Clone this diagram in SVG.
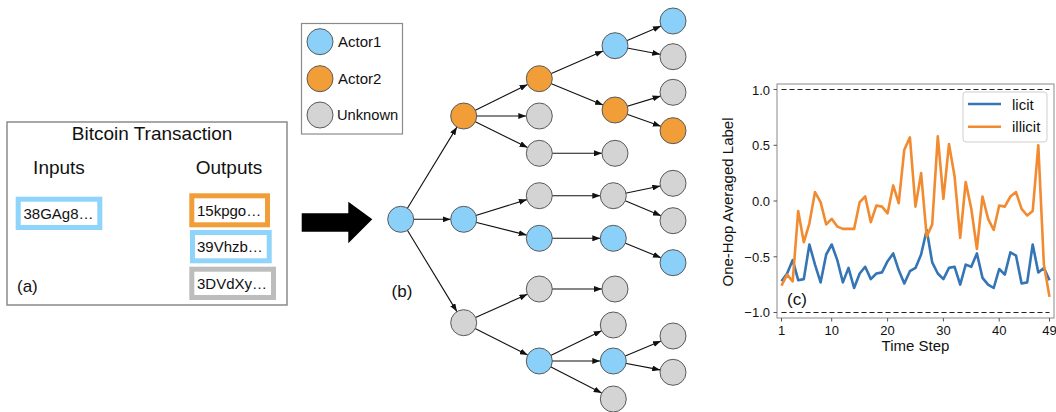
<svg xmlns="http://www.w3.org/2000/svg" width="1056" height="412" viewBox="0 0 1056 412">
<style>
text{font-family:"Liberation Sans",Arial,sans-serif;fill:#111}
.blue{fill:#8ad0f9;stroke:#5a5a5a;stroke-width:1}
.orange{fill:#f19d38;stroke:#5a5a5a;stroke-width:1}
.gray{fill:#d4d4d4;stroke:#5a5a5a;stroke-width:1}
.edge{stroke:#111;stroke-width:1.1;fill:none;marker-end:url(#ah)}
.addr{fill:#fff;stroke-width:5}
.addrt{font-size:15px}
.lbl{font-size:17px}
.tick{font-size:13px;fill:#222}
.ax{stroke:#8a8a8a;stroke-width:1;fill:none}
.dash{stroke:#222;stroke-width:1.2;stroke-dasharray:5,3;fill:none}
</style>
<defs>
<marker id="ah" markerUnits="userSpaceOnUse" markerWidth="8" markerHeight="6" refX="8" refY="3" orient="auto">
<path d="M0,0 L8,3 L0,6 z" fill="#111"/>
</marker>
</defs>
<rect width="1056" height="412" fill="#fff"/>

<g id="panel-a">
<rect x="7" y="122" width="280" height="183" fill="#fff" stroke="#8a8a8a" stroke-width="1.5"/>
<text x="152" y="139.5" font-size="19" text-anchor="middle">Bitcoin Transaction</text>
<text x="59" y="173.5" font-size="19" text-anchor="middle">Inputs</text>
<text x="229" y="173.5" font-size="19" text-anchor="middle">Outputs</text>
<g id="input-38GAg8"><rect class="addr" x="18.2" y="199.2" width="81.6" height="28.3" stroke="#8fd4fb"/><text class="addrt" x="23.5" y="218.5">38GAg8…</text></g>
<g id="output-15kpgo"><rect class="addr" x="191.8" y="195.8" width="75.7" height="29" stroke="#f19d38"/><text class="addrt" x="197" y="215.5">15kpgo…</text></g>
<g id="output-39Vhzb"><rect class="addr" x="192.5" y="232.5" width="76.7" height="28.3" stroke="#8fd4fb"/><text class="addrt" x="197" y="252">39Vhzb…</text></g>
<g id="output-3DVdXy"><rect class="addr" x="191.8" y="269.2" width="81.7" height="28.3" stroke="#bdbdbd"/><text class="addrt" x="197" y="288.5">3DVdXy…</text></g>
<text class="lbl" x="17" y="292">(a)</text>
</g>

<g id="big-arrow">
<path d="M301.7,213.3 H348.3 V201.7 L372.3,219.3 L348.3,243.3 V231.7 H301.7 z" fill="#000"/>
</g>

<g id="legend">
<rect x="301.5" y="23.5" width="101" height="110.5" fill="#fff" stroke="#8a8a8a" stroke-width="1.2"/>
<circle class="blue" cx="320" cy="41.7" r="13"/><text x="338" y="46.5" font-size="15">Actor1</text>
<circle class="orange" cx="320" cy="78.7" r="13"/><text x="338" y="83.5" font-size="15">Actor2</text>
<circle class="gray" cx="320" cy="115" r="13"/><text x="337" y="120" font-size="14.7">Unknown</text>
</g>

<g id="connectors">
<line class="edge" x1="400.7" y1="219.3" x2="456.9" y2="127.1"/>
<line class="edge" x1="400.7" y1="219.3" x2="450.7" y2="219.3"/>
<line class="edge" x1="400.7" y1="219.3" x2="456.9" y2="311.6"/>
<line class="edge" x1="463.7" y1="116" x2="527.6" y2="84.4"/>
<line class="edge" x1="463.7" y1="116" x2="526.3" y2="116"/>
<line class="edge" x1="463.7" y1="116" x2="527.6" y2="147.6"/>
<line class="edge" x1="463.7" y1="219.3" x2="526.9" y2="199.6"/>
<line class="edge" x1="463.7" y1="219.3" x2="526.7" y2="235.1"/>
<line class="edge" x1="463.7" y1="322.7" x2="527.4" y2="294.3"/>
<line class="edge" x1="463.7" y1="322.7" x2="527.7" y2="355.1"/>
<line class="edge" x1="539.3" y1="78.7" x2="603.1" y2="50.9"/>
<line class="edge" x1="539.3" y1="78.7" x2="603" y2="105"/>
<line class="edge" x1="539.3" y1="153.3" x2="602" y2="153.3"/>
<line class="edge" x1="539.3" y1="195.7" x2="600.3" y2="195.7"/>
<line class="edge" x1="539.3" y1="238.3" x2="600.3" y2="238.3"/>
<line class="edge" x1="539.3" y1="289" x2="602" y2="289"/>
<line class="edge" x1="539.3" y1="361" x2="601.6" y2="330.7"/>
<line class="edge" x1="539.3" y1="361" x2="600.3" y2="361"/>
<line class="edge" x1="539.3" y1="361" x2="601.7" y2="393.1"/>
<line class="edge" x1="615" y1="45.7" x2="661" y2="26.1"/>
<line class="edge" x1="615" y1="45.7" x2="660.2" y2="54.3"/>
<line class="edge" x1="615" y1="110" x2="660.6" y2="96.1"/>
<line class="edge" x1="615" y1="110" x2="660.8" y2="126.3"/>
<line class="edge" x1="613.3" y1="195.7" x2="660.3" y2="186"/>
<line class="edge" x1="613.3" y1="195.7" x2="661" y2="215.7"/>
<line class="edge" x1="613.3" y1="238.3" x2="661" y2="257.8"/>
<line class="edge" x1="613.3" y1="361" x2="661" y2="341"/>
<line class="edge" x1="613.3" y1="361" x2="660.2" y2="369.9"/>
</g>

<g id="nodes">
<circle id="n0" class="blue" cx="400.7" cy="219.3" r="13"/>
<circle id="n1a" class="orange" cx="463.7" cy="116" r="13"/>
<circle id="n1b" class="blue" cx="463.7" cy="219.3" r="13"/>
<circle id="n1c" class="gray" cx="463.7" cy="322.7" r="13"/>
<circle id="n2a" class="orange" cx="539.3" cy="78.7" r="13"/>
<circle id="n2b" class="gray" cx="539.3" cy="116" r="13"/>
<circle id="n2c" class="gray" cx="539.3" cy="153.3" r="13"/>
<circle id="n2d" class="gray" cx="539.3" cy="195.7" r="13"/>
<circle id="n2e" class="blue" cx="539.3" cy="238.3" r="13"/>
<circle id="n2f" class="gray" cx="539.3" cy="289" r="13"/>
<circle id="n2g" class="blue" cx="539.3" cy="361" r="13"/>
<circle id="n3a" class="blue" cx="615" cy="45.7" r="13"/>
<circle id="n3b" class="orange" cx="615" cy="110" r="13"/>
<circle id="n3c" class="gray" cx="615" cy="153.3" r="13"/>
<circle id="n3d" class="gray" cx="613.3" cy="195.7" r="13"/>
<circle id="n3e" class="blue" cx="613.3" cy="238.3" r="13"/>
<circle id="n3f" class="gray" cx="615" cy="289" r="13"/>
<circle id="n3g" class="gray" cx="613.3" cy="325" r="13"/>
<circle id="n3h" class="blue" cx="613.3" cy="361" r="13"/>
<circle id="n3i" class="gray" cx="613.3" cy="399" r="13"/>
<circle id="n4a" class="blue" cx="673" cy="21" r="13"/>
<circle id="n4b" class="gray" cx="673" cy="56.7" r="13"/>
<circle id="n4c" class="gray" cx="673" cy="92.3" r="13"/>
<circle id="n4d" class="orange" cx="673" cy="130.7" r="13"/>
<circle id="n4e" class="gray" cx="673" cy="183.3" r="13"/>
<circle id="n4f" class="gray" cx="673" cy="220.7" r="13"/>
<circle id="n4g" class="blue" cx="673" cy="262.7" r="13"/>
<circle id="n4h" class="gray" cx="673" cy="336" r="13"/>
<circle id="n4i" class="gray" cx="673" cy="372.3" r="13"/>
</g>
<text class="lbl" x="402" y="296.5" text-anchor="middle">(b)</text>

<g id="panel-c">
<rect class="ax" x="777" y="84" width="277" height="234" fill="#fff"/>
<g stroke="#555" stroke-width="1">
<line x1="773.5" y1="89.5" x2="777" y2="89.5"/>
<line x1="773.5" y1="145.3" x2="777" y2="145.3"/>
<line x1="773.5" y1="201" x2="777" y2="201"/>
<line x1="773.5" y1="256.8" x2="777" y2="256.8"/>
<line x1="773.5" y1="312.5" x2="777" y2="312.5"/>
<line x1="781.5" y1="318" x2="781.5" y2="321.5"/>
<line x1="831.7" y1="318" x2="831.7" y2="321.5"/>
<line x1="887.6" y1="318" x2="887.6" y2="321.5"/>
<line x1="943.4" y1="318" x2="943.4" y2="321.5"/>
<line x1="999.2" y1="318" x2="999.2" y2="321.5"/>
<line x1="1049.5" y1="318" x2="1049.5" y2="321.5"/>
</g>
<g class="tick" text-anchor="end">
<text x="770" y="94.5">1.0</text>
<text x="770" y="150">0.5</text>
<text x="770" y="205.7">0.0</text>
<text x="770" y="261.5">−0.5</text>
<text x="770" y="317.2">−1.0</text>
</g>
<g class="tick" text-anchor="middle">
<text x="781.5" y="334.5">1</text>
<text x="831.7" y="334.5">10</text>
<text x="887.6" y="334.5">20</text>
<text x="943.4" y="334.5">30</text>
<text x="999.2" y="334.5">40</text>
<text x="1049.5" y="334.5">49</text>
</g>
<text x="915.5" y="350.5" font-size="15" text-anchor="middle">Time Step</text>
<text transform="translate(733,202) rotate(-90)" font-size="15" text-anchor="middle">One-Hop Averaged Label</text>
<line class="dash" x1="781.5" y1="89.5" x2="1049.5" y2="89.5"/>
<line class="dash" x1="781.5" y1="312.5" x2="1049.5" y2="312.5"/>
<polyline id="licit" fill="none" stroke="#3575b5" stroke-width="2.6" stroke-linejoin="round" points="781.5,281.3 787.1,273.5 792.7,260.1 798.2,280.2 803.8,279.1 809.4,244.5 815,264.6 820.6,282.4 826.2,254.5 831.7,244.5 837.3,260.1 842.9,282.4 848.5,267.9 854.1,288 859.7,273.5 865.2,266.8 870.8,279.1 876.4,273.5 882,272.4 887.6,261.2 893.2,253.4 898.7,270.1 904.3,283.5 909.9,271.2 915.5,267.9 921.1,254.5 926.7,230 932.2,262.3 937.8,273.5 943.4,279.1 949,267.9 954.6,266.8 960.2,284.6 965.7,264.6 971.3,266.8 976.9,253.4 982.5,277.9 988.1,284.6 993.7,288 999.2,269 1004.8,274.6 1010.4,252.3 1016,255.6 1021.6,283.5 1027.2,282.4 1032.7,244.5 1038.3,272.4 1043.9,267.9 1049.5,280.2"/>
<polyline id="illicit" fill="none" stroke="#f28a30" stroke-width="2.6" stroke-linejoin="round" points="781.5,285.7 787.1,274.6 792.7,281.3 798.2,211 803.8,242.3 809.4,223.3 815,192.1 820.6,202.1 826.2,224.4 831.7,218.8 837.3,226.6 842.9,228.9 848.5,228.9 854.1,228.9 859.7,202.1 865.2,196.5 870.8,222.2 876.4,205.5 882,206.6 887.6,213.3 893.2,185.4 898.7,203.2 904.3,149.7 909.9,137.4 915.5,206.6 921.1,173.1 926.7,236.7 932.2,224.4 937.8,136.3 943.4,198.8 949,144.1 954.6,176.5 960.2,237.8 965.7,182 971.3,208.8 976.9,249 982.5,196.5 988.1,218.8 993.7,230 999.2,205.5 1004.8,206.6 1010.4,196.5 1016,192.1 1021.6,208.8 1027.2,215.5 1032.7,211 1038.3,145.3 1043.9,264.6 1049.5,296.9"/>
<g id="chart-legend">
<rect x="963" y="92" width="84" height="50" rx="3" fill="#fff" fill-opacity="0.85" stroke="#cfcfcf"/>
<line x1="968" y1="104" x2="1001" y2="104" stroke="#3575b5" stroke-width="2.6"/>
<line x1="968" y1="126.7" x2="1001" y2="126.7" stroke="#f28a30" stroke-width="2.6"/>
<text x="1012" y="109.5" font-size="15">licit</text>
<text x="1012" y="132" font-size="15">illicit</text>
</g>
<text class="lbl" x="787" y="305">(c)</text>
</g>
</svg>
